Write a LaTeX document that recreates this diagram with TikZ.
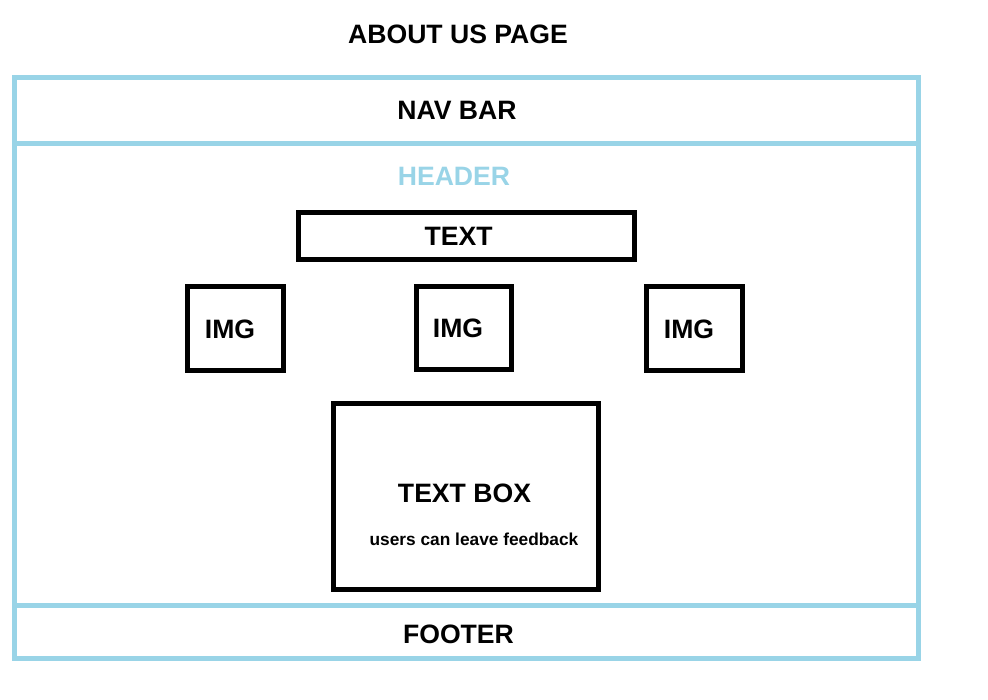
\documentclass[tikz,border=0pt]{standalone}
\usepackage{fontspec}
\setmainfont{Liberation Sans}
\definecolor{frameblue}{RGB}{153,212,231}
\begin{document}
\begin{tikzpicture}[x=1pt,y=-1pt,
  frame/.style={draw=frameblue,line width=5pt},
  box/.style={draw=black,line width=5pt,rectangle,inner sep=0pt},
  biglabel/.style={font=\fontsize{26.6}{30}\selectfont\bfseries,inner sep=0pt},
  smalllabel/.style={font=\fontsize{17.3}{20}\selectfont\bfseries,inner sep=0pt}]
  \useasboundingbox (0,0) rectangle (988,699);

  % page title
  \node[biglabel] (title) at (458,34) {ABOUT US PAGE};

  % outer page frame split into nav bar, header area and footer
  \coordinate (tl) at (14.5,77.5);
  \coordinate (br) at (918.5,658);
  \draw[frame] (tl) rectangle (br);
  \draw[frame] (14.5,143.5) -- (918.5,143.5);
  \draw[frame] (14.5,605.5) -- (918.5,605.5);

  \node[biglabel] (nav) at (457,110) {NAV BAR};
  \node[biglabel,text=frameblue] (header) at (454,176) {HEADER};
  \node[biglabel] (footer) at (458.5,634) {FOOTER};

  % text strip
  \node[box,minimum width=335.5pt,minimum height=47pt] (textbox) at (466.25,235.5) {};
  \node[biglabel] (textlabel) at (458.5,236) {TEXT};

  % three image placeholders
  \node[box,minimum width=95.5pt,minimum height=83.5pt] (img1) at (235.25,328.25) {};
  \node[box,minimum width=95.5pt,minimum height=83pt] (img2) at (463.75,327.5) {};
  \node[box,minimum width=95.5pt,minimum height=83.5pt] (img3) at (694.25,328.25) {};
  \node[biglabel] (img1label) at (230,329.5) {IMG};
  \node[biglabel] (img2label) at (458,328.5) {IMG};
  \node[biglabel] (img3label) at (689,329) {IMG};

  % feedback text box
  \node[box,minimum width=265pt,minimum height=185.5pt] (feedback) at (466,496.25) {};
  \node[biglabel] (fblabel) at (464.5,493) {TEXT BOX};
  \node[smalllabel] (fbsub) at (474,539.5) {users can leave feedback};
\end{tikzpicture}
\end{document}
